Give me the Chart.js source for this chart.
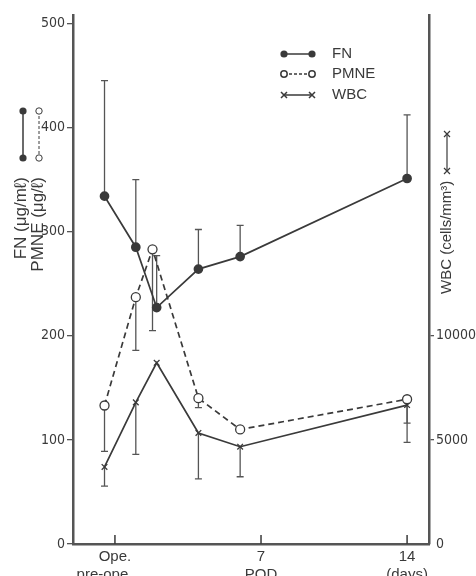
<!DOCTYPE html>
<html>
<head>
<meta charset="utf-8">
<script src="https://cdn.jsdelivr.net/npm/chart.js@4/dist/chart.umd.min.js"></script>
<style>
  html, body { margin: 0; padding: 0; background: #fff; }
  #wrap { width: 476px; height: 576px; }
</style>
</head>
<body>
<div id="wrap"><canvas id="chart" width="476" height="576"></canvas></div>
<script>
(() => {
  'use strict'
  // Données (jours post-op, valeurs, extrémités des barres d'erreur)
  const fnDays = [-0.5, 1, 2, 4, 6, 14];
  const pmneDays = [-0.5, 1, 1.8, 4, 6, 14];
  const wbcDays = [-0.5, 1, 2, 4, 6, 14];
  const fnValues = [334, 285, 227, 264, 276, 351];
  const fnUpper = [445, 350, 277, 302, 306, 412];
  const pmneValues = [133, 237, 283, 140, 110, 139];
  const pmneLower = [89, 186, 205, 131, null, 116];
  const wbcValues = [3700, 6800, 8700, 5330, 4670, 6670];
  const wbcLower = [2780, 4300, null, 3130, 3230, 4880];

  const xTickValues = [-0.5, 0, 7, 14];
  const xTickLabels = [['', 'pre-ope.'], 'Ope.', ['7', 'POD'], ['14', '(days)']];
  const leftTicks = [0, 100, 200, 300, 400, 500];
  const rightTicks = [0, 5000, 10000];
  const legendNames = ['FN', 'PMNE', 'WBC'];

  const ink = '#3a3a3a';
  const sans = "'Liberation Sans', Arial, sans-serif";
  const narrow = "'DejaVu Sans Condensed', 'Liberation Sans', Arial, sans-serif";

  const toXY = (xs, ys) => xs.map((x, i) => ({ x: x, y: ys[i] }));

  const drawMarker = (ctx, kind, x, y) => {
    ctx.beginPath();
    if (kind === 0) {
      ctx.arc(x, y, 3.6, 0, Math.PI * 2);
      ctx.fillStyle = ink; ctx.fill();
    } else if (kind === 1) {
      ctx.arc(x, y, 3.2, 0, Math.PI * 2);
      ctx.fillStyle = '#fff'; ctx.fill(); ctx.stroke();
    } else {
      ctx.moveTo(x - 3, y - 3); ctx.lineTo(x + 3, y + 3);
      ctx.moveTo(x + 3, y - 3); ctx.lineTo(x - 3, y + 3);
      ctx.stroke();
    }
  };

  // barres d'erreur (une seule direction, comme sur la figure)
  const errorBars = {
    id: 'errorBars',
    beforeDatasetsDraw(chart) {
      const ctx = chart.ctx, xs = chart.scales.x;
      const sets = [
        [fnDays, fnValues, fnUpper, 'y'],
        [pmneDays, pmneValues, pmneLower, 'y'],
        [wbcDays, wbcValues, wbcLower, 'y2']
      ];
      ctx.save();
      ctx.strokeStyle = '#555';
      ctx.lineWidth = 1.3;
      sets.forEach(([days, vals, ends, axis]) => {
        const ys = chart.scales[axis];
        days.forEach((d, i) => {
          if (ends[i] == null) return;
          const px = xs.getPixelForValue(d);
          const p1 = ys.getPixelForValue(vals[i]);
          const p2 = ys.getPixelForValue(ends[i]);
          ctx.beginPath();
          ctx.moveTo(px, p1); ctx.lineTo(px, p2);
          ctx.moveTo(px - 3.5, p2); ctx.lineTo(px + 3.5, p2);
          ctx.stroke();
        });
      });
      ctx.restore();
    }
  };

  // légende, titres d'axes, graduations internes de l'axe x
  const decorations = {
    id: 'decorations',
    afterDraw(chart) {
      const ctx = chart.ctx, xs = chart.scales.x, area = chart.chartArea;
      ctx.save();
      ctx.strokeStyle = ink;
      ctx.fillStyle = ink;
      ctx.lineWidth = 1.5;

      xTickValues.filter(v => v >= 0).forEach(v => {
        const px = xs.getPixelForValue(v);
        ctx.beginPath(); ctx.moveTo(px, area.bottom); ctx.lineTo(px, area.bottom - 9); ctx.stroke();
      });

      // légende en haut à droite
      const rows = [54, 74, 95];
      ctx.font = '15px ' + sans;
      ctx.textBaseline = 'middle';
      legendNames.forEach((name, i) => {
        const y = rows[i];
        ctx.setLineDash(i === 1 ? [3, 2] : []);
        ctx.beginPath(); ctx.moveTo(284, y); ctx.lineTo(312, y); ctx.stroke();
        ctx.setLineDash([]);
        drawMarker(ctx, i, 284, y);
        drawMarker(ctx, i, 312, y);
        ctx.fillStyle = ink;
        ctx.fillText(name, 332, y);
      });

      // marqueurs verticaux à gauche
      ctx.beginPath(); ctx.moveTo(23, 111); ctx.lineTo(23, 158); ctx.stroke();
      drawMarker(ctx, 0, 23, 111); drawMarker(ctx, 0, 23, 158);
      ctx.lineWidth = 1;
      ctx.setLineDash([3, 2]);
      ctx.beginPath(); ctx.moveTo(39, 111); ctx.lineTo(39, 158); ctx.stroke();
      ctx.setLineDash([]);
      drawMarker(ctx, 1, 39, 111); drawMarker(ctx, 1, 39, 158);

      // titres verticaux
      ctx.fillStyle = ink;
      ctx.font = '17px ' + sans;
      ctx.textAlign = 'right';
      ctx.save(); ctx.translate(21, 177); ctx.rotate(-Math.PI / 2);
      ctx.fillText('FN (\u03bcg/m\u2113)', 0, 0); ctx.restore();
      ctx.save(); ctx.translate(38, 177); ctx.rotate(-Math.PI / 2);
      ctx.fillText('PMNE (\u03bcg/\u2113)', 0, 0); ctx.restore();

      ctx.textAlign = 'left';
      ctx.save(); ctx.translate(447, 294); ctx.rotate(-Math.PI / 2);
      ctx.font = '15px ' + sans;
      ctx.fillText('WBC (cells/mm\u00b3)', 0, 0);
      ctx.restore();
      ctx.lineWidth = 1.2;
      ctx.beginPath(); ctx.moveTo(447, 171); ctx.lineTo(447, 134); ctx.stroke();
      drawMarker(ctx, 2, 447, 171); drawMarker(ctx, 2, 447, 134);
      ctx.restore();
    }
  };

  const tickFont = { family: narrow, size: 14 };

  new Chart(document.getElementById('chart'), {
    type: 'line',
    data: {
      datasets: [{
        label: legendNames[0],
        data: toXY(fnDays, fnValues),
        yAxisID: 'y',
        borderColor: ink,
        borderWidth: 1.7,
        pointStyle: 'circle',
        pointRadius: 4,
        pointBackgroundColor: ink,
        pointBorderColor: ink
      }, {
        label: legendNames[1],
        data: toXY(pmneDays, pmneValues),
        yAxisID: 'y',
        borderColor: ink,
        borderWidth: 1.7,
        borderDash: [6, 4],
        pointStyle: 'circle',
        pointRadius: 4.5,
        pointBackgroundColor: '#fff',
        pointBorderColor: ink,
        pointBorderWidth: 1.3
      }, {
        label: legendNames[2],
        data: toXY(wbcDays, wbcValues),
        yAxisID: 'y2',
        borderColor: ink,
        borderWidth: 1.7,
        pointStyle: 'crossRot',
        pointRadius: 4,
        pointBorderColor: ink,
        pointBorderWidth: 1.3
      }]
    },
    options: {
      responsive: false,
      animation: false,
      devicePixelRatio: 1,
      layout: { padding: { top: 15, left: 0, right: 0, bottom: 0 } },
      plugins: { legend: { display: false }, tooltip: { enabled: false } },
      scales: {
        x: {
          type: 'linear',
          min: -2.01,
          max: 15.05,
          afterBuildTicks: (scale) => { scale.ticks = xTickValues.map(v => ({ value: v })); },
          afterFit: (scale) => { scale.height = 32; },
          grid: { display: false, drawTicks: false },
          border: { display: true, color: '#555', width: 2.5 },
          ticks: {
            autoSkip: false,
            maxRotation: 0,
            minRotation: 0,
            padding: 4,
            color: ink,
            font: { family: sans, size: 15 },
            callback: (v) => xTickLabels[xTickValues.indexOf(v)]
          }
        },
        y: {
          position: 'left',
          min: 0,
          max: 508,
          afterBuildTicks: (scale) => { scale.ticks = leftTicks.map(v => ({ value: v })); },
          afterFit: (scale) => { scale.width = 73; },
          grid: { drawOnChartArea: false, tickLength: 6, color: '#555', lineWidth: 1.3 },
          border: { display: true, color: '#555', width: 2.5 },
          ticks: { padding: 2, color: ink, font: tickFont, callback: (v) => String(v) }
        },
        y2: {
          position: 'right',
          min: 0,
          max: 25400,
          afterBuildTicks: (scale) => { scale.ticks = rightTicks.map(v => ({ value: v })); },
          afterFit: (scale) => { scale.width = 47; },
          grid: {
            drawOnChartArea: false,
            tickLength: 5,
            lineWidth: 1.3,
            color: (c) => (c.tick && c.tick.value === 0) ? 'rgba(0,0,0,0)' : '#555'
          },
          border: { display: true, color: '#555', width: 2.5 },
          ticks: { padding: 2, color: ink, font: tickFont, callback: (v) => String(v) }
        }
      }
    },
    plugins: [errorBars, decorations]
  });
})();
</script>
</body>
</html>
